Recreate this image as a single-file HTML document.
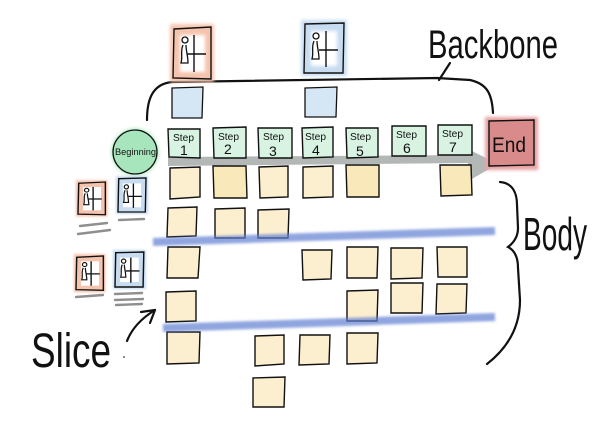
<!DOCTYPE html>
<html>
<head>
<meta charset="utf-8">
<style>
html,body{margin:0;padding:0;background:#fff;}
svg{display:block;}
text{font-family:"Liberation Sans","DejaVu Sans",sans-serif;fill:#111;}
</style>
</head>
<body>
<svg width="610" height="439" viewBox="0 0 610 439" xmlns="http://www.w3.org/2000/svg">
<defs>
<filter id="blur" x="-10%" y="-50%" width="120%" height="200%"><feGaussianBlur stdDeviation="1.4"/></filter>
<filter id="soft" x="-20%" y="-20%" width="140%" height="140%"><feGaussianBlur stdDeviation="1.5"/></filter>
</defs>

<!-- Backbone label and brace -->
<text x="428" y="58" font-size="40" textLength="130" lengthAdjust="spacingAndGlyphs">Backbone</text>
<path d="M147,120 C147,100 152,84 172,82 L437,78 L470,80 C488,84 492,95 493,113" fill="none" stroke="#111" stroke-width="2.2" stroke-linecap="round"/>
<path d="M439,80 L450,63" fill="none" stroke="#111" stroke-width="2.2" stroke-linecap="round"/>

<!-- top personas -->
<g transform="translate(173,27)">
  <rect x="-3" y="-3" width="44" height="58" fill="#f6c6b0" filter="url(#soft)"/>
  <polygon points="1,2 38,0 38,52 0,51" fill="#f5c4ae" stroke="#111" stroke-width="1.4"/>
  <rect x="7" y="8" width="25" height="37" fill="#fff" filter="url(#soft)"/>
  <circle cx="12" cy="13" r="3" fill="none" stroke="#111" stroke-width="1.3"/>
  <path d="M10,18 C7,25 10,29 8,36 L15,36 C15,29 13,24 13,18" fill="none" stroke="#111" stroke-width="1.3"/>
  <path d="M21,8 L21,45 M14,27 L33,27" stroke="#111" stroke-width="1.4"/>
</g>
<g transform="translate(304,23)">
  <rect x="-3" y="-3" width="46" height="56" fill="#c9ddf0" filter="url(#soft)"/>
  <polygon points="1,1 40,0 39,50 0,50" fill="#c7dcf0" stroke="#111" stroke-width="1.4"/>
  <rect x="7" y="8" width="26" height="35" fill="#fff" filter="url(#soft)"/>
  <circle cx="12" cy="13" r="3" fill="none" stroke="#111" stroke-width="1.3"/>
  <path d="M10,18 C7,25 10,29 8,36 L15,36 C15,29 13,24 13,18" fill="none" stroke="#111" stroke-width="1.3"/>
  <path d="M22,8 L22,44 M15,27 L34,27" stroke="#111" stroke-width="1.4"/>
</g>

<!-- blue activity cards -->
<polygon points="172,88 203,87 202,118 172,118" fill="#d5e6f5" stroke="#111" stroke-width="1.3"/>
<polygon points="305,88 337,87 336,117 305,117" fill="#d5e6f5" stroke="#111" stroke-width="1.3"/>

<!-- gray arrow -->
<polygon points="168,157 470,155 470,163 168,166" fill="#b3b8b7"/>
<polygon points="466,148 498,164 470,180" fill="#b3b8b7"/>

<!-- Beginning circle -->
<circle cx="135" cy="152" r="24" fill="#bdeecb" filter="url(#soft)"/>
<circle cx="135" cy="152" r="22" fill="#a7e6bc" stroke="#111" stroke-width="1.3"/>
<text x="115" y="155" font-size="9" textLength="41" lengthAdjust="spacingAndGlyphs">Beginning</text>

<!-- Steps -->
<g stroke="#111" stroke-width="1.4" fill="#d8f3e2">
<polygon points="168,129 200,129 200,158 169,157"/>
<polygon points="213,128 246,127 246,158 214,158"/>
<polygon points="258,128 292,128 292,158 259,158"/>
<polygon points="302,128 333,127 333,157 303,158"/>
<polygon points="346,128 378,128 378,157 347,158"/>
<polygon points="392,126 426,126 426,156 392,156"/>
<polygon points="438,125 472,125 472,155 438,155"/>
</g>
<g font-size="10">
<text x="173" y="141" textLength="21" lengthAdjust="spacingAndGlyphs">Step</text>
<text x="218" y="140" textLength="21" lengthAdjust="spacingAndGlyphs">Step</text>
<text x="263" y="140" textLength="21" lengthAdjust="spacingAndGlyphs">Step</text>
<text x="305" y="140" textLength="21" lengthAdjust="spacingAndGlyphs">Step</text>
<text x="350" y="140" textLength="21" lengthAdjust="spacingAndGlyphs">Step</text>
<text x="396" y="138" textLength="21" lengthAdjust="spacingAndGlyphs">Step</text>
<text x="442" y="137" textLength="21" lengthAdjust="spacingAndGlyphs">Step</text>
</g>
<g font-size="14">
<text x="180" y="155">1</text>
<text x="224" y="154">2</text>
<text x="269" y="156">3</text>
<text x="312" y="155">4</text>
<text x="356" y="156">5</text>
<text x="403" y="153">6</text>
<text x="449" y="152">7</text>
</g>

<!-- End -->
<rect x="485" y="117" width="53" height="53" fill="#e7a3a3" filter="url(#soft)"/>
<polygon points="489,121 534,120 534,165 489,166" fill="#d98a8a" stroke="#111" stroke-width="1.4"/>
<text x="492" y="152" font-size="21" textLength="34" lengthAdjust="spacingAndGlyphs">End</text>

<!-- Body cards -->
<g stroke="#111" stroke-width="1.4" fill="#fcefcf">
<polygon points="170,168 200,167 200,197 170,199"/>
<polygon points="213,166 246,166 247,198 214,198" fill="#f9e8b9"/>
<polygon points="259,167 288,166 288,197 260,198"/>
<polygon points="303,167 333,166 333,197 303,198"/>
<polygon points="346,165 379,165 379,197 347,197" fill="#f9e8b9"/>
<polygon points="440,165 471,165 472,195 441,196" fill="#f9e8b9"/>

<polygon points="168,208 197,207 196,236 167,237"/>
<polygon points="215,209 245,208 245,238 215,238"/>
<polygon points="258,210 289,209 288,238 258,238"/>

<polygon points="168,247 200,247 198,278 167,278"/>
<polygon points="302,250 332,250 331,279 303,280"/>
<polygon points="347,247 378,247 377,278 347,278"/>
<polygon points="391,248 423,248 422,278 391,279"/>
<polygon points="437,247 467,247 467,277 438,277"/>

<polygon points="166,292 196,291 196,321 166,322"/>
<polygon points="347,291 378,290 377,321 347,321"/>
<polygon points="391,283 423,283 422,313 391,313"/>
<polygon points="437,284 467,284 466,313 436,314"/>

<polygon points="167,332 200,332 199,363 167,364"/>
<polygon points="255,336 284,335 284,364 255,366"/>
<polygon points="300,335 330,335 329,364 299,365"/>
<polygon points="347,333 378,333 377,363 347,364"/>

<polygon points="253,378 285,377 284,407 253,407"/>
</g>

<!-- slice lines -->
<path d="M153,242 L495,231" stroke="#5f7fd2" stroke-opacity="0.7" stroke-width="8" fill="none" filter="url(#blur)"/>
<path d="M163,328 L495,317" stroke="#5f7fd2" stroke-opacity="0.7" stroke-width="8" fill="none" filter="url(#blur)"/>

<!-- Body brace and label -->
<path d="M500,182 C512,183 517,192 517,205 L518,228 C518,238 512,244 508,247 C514,250 518,256 518,268 L520,300 C520,330 505,350 487,364" fill="none" stroke="#111" stroke-width="2.2" stroke-linecap="round"/>
<text x="523" y="250" font-size="46" textLength="64" lengthAdjust="spacingAndGlyphs">Body</text>

<!-- left personas -->
<g transform="translate(78,182) scale(0.72,0.63)">
  <rect x="-3" y="-3" width="44" height="58" fill="#f6c6b0" filter="url(#soft)"/>
  <polygon points="1,2 38,0 38,52 0,51" fill="#f5c4ae" stroke="#111" stroke-width="2"/>
  <rect x="7" y="8" width="25" height="37" fill="#fff"/>
  <circle cx="12" cy="13" r="3" fill="none" stroke="#111" stroke-width="1.7"/>
  <path d="M10,18 C7,25 10,29 8,36 L15,36 C15,29 13,24 13,18" fill="none" stroke="#111" stroke-width="1.7"/>
  <path d="M21,8 L21,45 M14,27 L33,27" stroke="#111" stroke-width="1.9"/>
</g>
<g transform="translate(118,178) scale(0.7,0.68)">
  <rect x="-3" y="-3" width="46" height="56" fill="#c9ddf0" filter="url(#soft)"/>
  <polygon points="1,1 40,0 39,50 0,50" fill="#c7dcf0" stroke="#111" stroke-width="2"/>
  <rect x="7" y="8" width="26" height="35" fill="#fff"/>
  <circle cx="12" cy="13" r="3" fill="none" stroke="#111" stroke-width="1.7"/>
  <path d="M10,18 C7,25 10,29 8,36 L15,36 C15,29 13,24 13,18" fill="none" stroke="#111" stroke-width="1.7"/>
  <path d="M22,8 L22,44 M15,27 L34,27" stroke="#111" stroke-width="1.9"/>
</g>
<g transform="translate(76,256) scale(0.72,0.66)">
  <rect x="-3" y="-3" width="44" height="58" fill="#f6c6b0" filter="url(#soft)"/>
  <polygon points="1,2 38,0 38,52 0,51" fill="#f5c4ae" stroke="#111" stroke-width="2"/>
  <rect x="7" y="8" width="25" height="37" fill="#fff"/>
  <circle cx="12" cy="13" r="3" fill="none" stroke="#111" stroke-width="1.7"/>
  <path d="M10,18 C7,25 10,29 8,36 L15,36 C15,29 13,24 13,18" fill="none" stroke="#111" stroke-width="1.7"/>
  <path d="M21,8 L21,45 M14,27 L33,27" stroke="#111" stroke-width="1.9"/>
</g>
<g transform="translate(115,252) scale(0.72,0.7)">
  <rect x="-3" y="-3" width="46" height="56" fill="#c9ddf0" filter="url(#soft)"/>
  <polygon points="1,1 40,0 39,50 0,50" fill="#c7dcf0" stroke="#111" stroke-width="2"/>
  <rect x="7" y="8" width="26" height="35" fill="#fff"/>
  <circle cx="12" cy="13" r="3" fill="none" stroke="#111" stroke-width="1.7"/>
  <path d="M10,18 C7,25 10,29 8,36 L15,36 C15,29 13,24 13,18" fill="none" stroke="#111" stroke-width="1.7"/>
  <path d="M22,8 L22,44 M15,27 L34,27" stroke="#111" stroke-width="1.9"/>
</g>
<!-- gray underlines -->
<g stroke="#8f8f8f" stroke-width="2.4" stroke-linecap="round" fill="none">
<path d="M80,226 L107,223"/>
<path d="M78,234 L110,230"/>
<path d="M119,220 L144,219"/>
<path d="M76,297 L103,295"/>
<path d="M115,294 L142,293"/>
<path d="M115,300 L143,299"/>
<path d="M116,305 L142,304"/>
</g>

<!-- Slice label and arrow -->
<text x="31" y="367" font-size="48" textLength="80" lengthAdjust="spacingAndGlyphs">Slice</text>
<path d="M127,341 C132,328 142,318 155,310" fill="none" stroke="#111" stroke-width="2.2" stroke-linecap="round"/>
<path d="M141,312 L155,310 L150,323" fill="none" stroke="#111" stroke-width="2.2" stroke-linecap="round" stroke-linejoin="round"/>
<circle cx="124" cy="357" r="0.9" fill="#333"/>
</svg>
</body>
</html>
